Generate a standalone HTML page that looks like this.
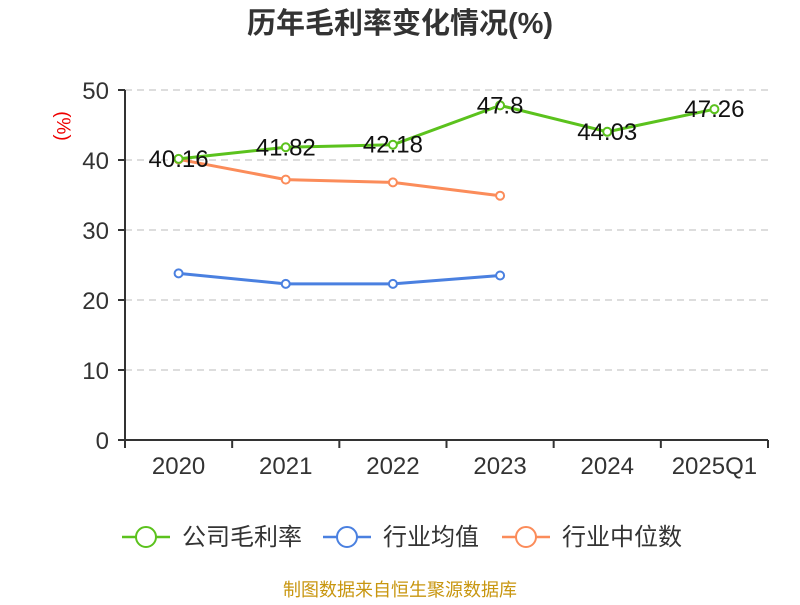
<!DOCTYPE html>
<html><head><meta charset="utf-8"><style>
body{margin:0;background:#fff;font-family:"Liberation Sans","Noto Sans CJK SC",sans-serif}
</style></head><body>
<svg id="c" width="800" height="600" xmlns="http://www.w3.org/2000/svg">
<text x="400" y="33" text-anchor="middle" font-size="29" font-weight="bold" fill="#333" font-family="Liberation Sans,Noto Sans CJK SC,sans-serif">历年毛利率变化情况(%)</text>
<text transform="translate(57,126) rotate(90)" text-anchor="middle" font-size="19" fill="#e00">(%)</text>
<g id="grid"></g><g id="axes"></g><g id="series"></g>
<g font-size="24" fill="#333" font-family="Liberation Sans,Noto Sans CJK SC,sans-serif">
<g><line x1="122" y1="537" x2="170" y2="537" stroke="#5bc21d" stroke-width="2.5"/><circle cx="146" cy="537" r="10" fill="#fff" stroke="#5bc21d" stroke-width="2"/><text x="182" y="545">公司毛利率</text></g>
<g><line x1="323" y1="537" x2="371" y2="537" stroke="#4a80e0" stroke-width="2.5"/><circle cx="347" cy="537" r="10" fill="#fff" stroke="#4a80e0" stroke-width="2"/><text x="383" y="545">行业均值</text></g>
<g><line x1="502" y1="537" x2="550" y2="537" stroke="#fb8c5a" stroke-width="2.5"/><circle cx="526" cy="537" r="10" fill="#fff" stroke="#fb8c5a" stroke-width="2"/><text x="562" y="545">行业中位数</text></g>
</g>
<text x="400" y="596" text-anchor="middle" font-size="18" fill="#c8960f">制图数据来自恒生聚源数据库</text>
</svg>
<script>
const categories=["2020","2021","2022","2023","2024","2025Q1"];
const grossMargin=[40.16,41.82,42.18,47.8,44.03,47.26];
const industryAvg=[23.8,22.3,22.3,23.5];
const industryMedian=[40.1,37.2,36.8,34.9];
const yTicks=[0,10,20,30,40,50];
const NS="http://www.w3.org/2000/svg";
const L=125,R=768,T=90,B=440;
const bw=(R-L)/categories.length;
const x=i=>L+bw*(i+0.5);
const y=v=>B-(v/50)*(B-T);
function mk(t,a,p){const e=document.createElementNS(NS,t);for(const k in a)e.setAttribute(k,a[k]);p.appendChild(e);return e;}
const grid=document.getElementById('grid'),axes=document.getElementById('axes'),ser=document.getElementById('series');
yTicks.forEach(v=>{
 if(v>0){const g=mk('line',{x1:L,x2:R,y1:y(v),y2:y(v),stroke:'#bbb','stroke-dasharray':'7,5'},grid);
 }
 mk('line',{x1:L-7,x2:L,y1:y(v),y2:y(v),stroke:'#333','stroke-width':2},axes);
 const t=mk('text',{x:L-16,y:y(v)+9,'text-anchor':'end','font-size':24,fill:'#333'},axes);t.textContent=v;
 
});
mk('line',{x1:L,x2:L,y1:T,y2:B,stroke:'#333','stroke-width':2},axes);
mk('line',{x1:L,x2:R,y1:B,y2:B,stroke:'#333','stroke-width':2},axes);
for(let i=0;i<=categories.length;i++)mk('line',{x1:L+bw*i,x2:L+bw*i,y1:B,y2:B+8,stroke:'#333','stroke-width':2},axes);
categories.forEach((c,i)=>{const t=mk('text',{x:x(i),y:B+34,'text-anchor':'middle','font-size':24,fill:'#333'},axes);t.textContent=c;
 });
function line(data,color,name,labels){
 const g=mk('g',{},ser);
 mk('polyline',{points:data.map((v,i)=>x(i)+','+y(v)).join(' '),fill:'none',stroke:color,'stroke-width':3},g);
 data.forEach((v,i)=>{const c=mk('circle',{cx:x(i),cy:y(v),r:4,fill:'#fff',stroke:color,'stroke-width':2},g);
  
  if(labels){const t=mk('text',{x:x(i),y:y(v)+8,'text-anchor':'middle','font-size':24,fill:'#111'},g);t.textContent=v;
  }});
}
line(industryAvg,'#4a80e0','industry-avg-line',false);
line(industryMedian,'#fb8c5a','industry-median-line',false);
line(grossMargin,'#5bc21d','gross-margin-line',true);
</script>
</body></html>
